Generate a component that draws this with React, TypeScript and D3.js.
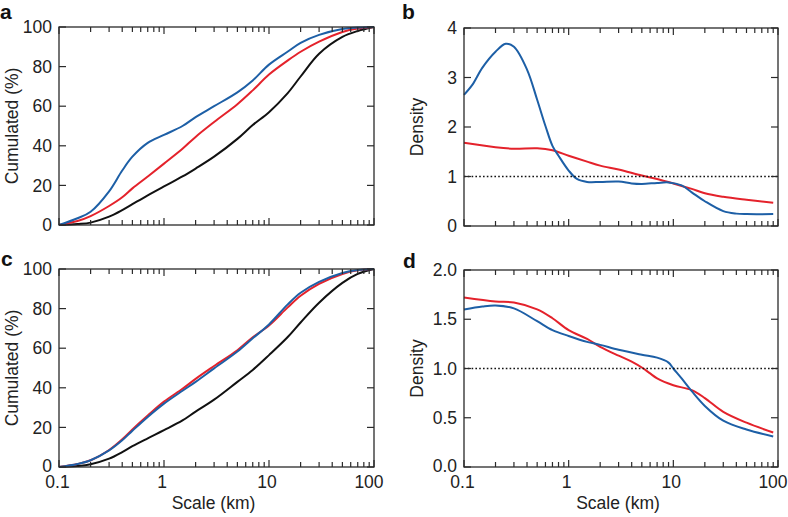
import React from "react";
import * as d3 from "d3";

// ---------- data ----------
const cumX = [0.1, 0.15, 0.2, 0.3, 0.4, 0.5, 0.7, 1, 1.5, 2, 3, 5, 7, 10, 15, 20, 30, 50, 70, 100];
const aBlue = [0, 3.4, 6.7, 17, 27.5, 34.5, 41.5, 45.5, 50, 54.5, 60, 67, 73, 81, 87.5, 92, 96, 99, 99.7, 100];
const aRed = [0, 2, 4.5, 9.6, 14, 18.5, 24.5, 31, 38.5, 44.5, 52, 61, 68, 76, 83, 87.5, 92.6, 97.5, 99.2, 100];
const aBlack = [0, 0.5, 1.2, 4.2, 7.5, 10.5, 15, 19.5, 24.5, 28.5, 34.5, 43.5, 50.5, 57, 66.5, 75, 86.5, 95, 98, 100];

const cBlue = [0, 1.5, 3.4, 8.4, 13.5, 18.3, 25.3, 32, 38.5, 43, 49.8, 58.3, 65, 72, 82, 88, 93.5, 98, 99.5, 100];
const cRed = [0, 1.5, 3.4, 8.6, 14, 19, 26, 33, 39.5, 44.5, 51, 59, 65.5, 71.5, 80.5, 86.5, 92.5, 97.5, 99.3, 100];
const cBlack = [0, 0.5, 1.4, 4.2, 7.5, 10.5, 14.5, 18.6, 23.5, 28, 34, 43, 49, 56.5, 65.5, 73, 83, 93, 97.5, 100];

const bBlueX = [0.1, 0.12, 0.15, 0.2, 0.25, 0.3, 0.4, 0.5, 0.6, 0.7, 0.8, 1, 1.2, 1.5, 2, 3, 4, 5, 7, 9, 12, 15, 20, 30, 40, 50, 90];
const bBlue = [2.65, 2.85, 3.2, 3.52, 3.68, 3.62, 3.16, 2.55, 2.02, 1.62, 1.42, 1.12, 0.95, 0.89, 0.89, 0.9, 0.86, 0.85, 0.87, 0.88, 0.82, 0.68, 0.5, 0.3, 0.25, 0.24, 0.24];
const bRedX = [0.1, 0.2, 0.3, 0.5, 0.7, 1, 1.5, 2, 3, 5, 7, 10, 15, 20, 30, 50, 90];
const bRed = [1.68, 1.59, 1.56, 1.57, 1.53, 1.42, 1.3, 1.22, 1.14, 1.02, 0.95, 0.86, 0.75, 0.66, 0.59, 0.53, 0.47];

const dRedX = [0.1, 0.2, 0.3, 0.5, 0.7, 1, 1.5, 2, 3, 4, 5, 6, 7, 10, 15, 20, 30, 50, 90];
const dRed = [1.72, 1.68, 1.67, 1.6, 1.51, 1.39, 1.3, 1.22, 1.13, 1.07, 1.01, 0.95, 0.9, 0.83, 0.78, 0.7, 0.56, 0.45, 0.35];
const dBlueX = [0.1, 0.15, 0.2, 0.3, 0.5, 0.7, 1, 1.5, 2, 3, 5, 7, 9, 10, 12, 15, 20, 30, 50, 90];
const dBlue = [1.6, 1.63, 1.64, 1.61, 1.48, 1.39, 1.33, 1.27, 1.24, 1.19, 1.14, 1.11, 1.06, 1.0, 0.9, 0.77, 0.62, 0.47, 0.38, 0.31];

const cumTicks = [0, 20, 40, 60, 80, 100];
const bTicks = [0, 1, 2, 3, 4];
const dTicks = [0, 0.5, 1.0, 1.5, 2.0];
const xTickValues = [0.1, 1, 10, 100];
const xTickLabels = ["0.1", "1", "10", "100"];

const BLUE = "#1d5fa6";
const RED = "#e4222b";
const BLACK = "#111111";
const FONT = "'Liberation Sans', Arial, Helvetica, sans-serif";

type Series = { x: number[]; y: number[]; color: string };

function Panel(props: {
  left: number; right: number; top: number; bottom: number;
  yMax: number; yTicks: number[]; yFmt: (v: number) => string;
  series: Series[]; letter: string; letterX: number; letterY: number;
  yLabel: string; yLabelX: number; showX: boolean; dotted?: number;
}) {
  const { left, right, top, bottom, yMax, yTicks, yFmt, series, letter, letterX, letterY, yLabel, yLabelX, showX, dotted } = props;
  const x = d3.scaleLog().domain([0.1, 100]).range([left, right]);
  const y = d3.scaleLinear().domain([0, yMax]).range([bottom, top]);
  const line = d3.line<[number, number]>().x(d => x(d[0])).y(d => y(d[1])).curve(d3.curveCatmullRom.alpha(0.5));
  const minor: number[] = [];
  [0.1, 1, 10].forEach(dec => { for (let k = 2; k <= 9; k++) minor.push(dec * k); });
  const axisColor = "#2a2a2a";
  const labelShift = [-1.5, -2, -2, -5];
  return (
    <g>
      {series.map((s, i) => (
        <path key={i} d={line(s.x.map((v, j) => [v, s.y[j]]) as [number, number][]) || ""} fill="none" stroke={s.color} strokeWidth={2} />
      ))}
      {dotted !== undefined && (
        <line x1={left} x2={right} y1={y(dotted)} y2={y(dotted)} stroke="#111" strokeWidth={1.3} strokeDasharray="1.6,2.2" />
      )}
      <rect x={left} y={top} width={right - left} height={bottom - top} fill="none" stroke={axisColor} strokeWidth={1.3} />
      {minor.map((m, i) => (
        <g key={"m" + i}>
          <line x1={x(m)} x2={x(m)} y1={bottom} y2={bottom - 5} stroke={axisColor} strokeWidth={1.2} />
          <line x1={x(m)} x2={x(m)} y1={top} y2={top + 5} stroke={axisColor} strokeWidth={1.2} />
        </g>
      ))}
      {xTickValues.map((m, i) => (
        <g key={"M" + i}>
          <line x1={x(m)} x2={x(m)} y1={bottom} y2={bottom - 7} stroke={axisColor} strokeWidth={1.2} />
          <line x1={x(m)} x2={x(m)} y1={top} y2={top + 7} stroke={axisColor} strokeWidth={1.2} />
        </g>
      ))}
      {yTicks.map((t, i) => (
        <g key={"y" + i}>
          <line x1={left} x2={left + 7} y1={y(t)} y2={y(t)} stroke={axisColor} strokeWidth={1.2} />
          <line x1={right} x2={right - 7} y1={y(t)} y2={y(t)} stroke={axisColor} strokeWidth={1.2} />
          <text x={left - 7} y={y(t) - (i === 0 && showX ? 1 : 0)} dy="0.35em" textAnchor="end" fontSize={17.5} fontFamily={FONT} fill="#222">{yFmt(t)}</text>
        </g>
      ))}
      {showX && xTickValues.map((m, i) => (
        <text key={"xl" + i} x={x(m) + labelShift[i]} y={bottom + 21} textAnchor="middle" fontSize={17.5} fontFamily={FONT} fill="#222">{xTickLabels[i]}</text>
      ))}
      {showX && (
        <text x={(left + right) / 2 - 3} y={bottom + 42} textAnchor="middle" fontSize={17.5} fontFamily={FONT} fill="#222">Scale (km)</text>
      )}
      <text transform={`translate(${yLabelX},${(top + bottom) / 2}) rotate(-90)`} textAnchor="middle" fontSize={17.5} fontFamily={FONT} fill="#222">{yLabel}</text>
      <text x={letterX} y={letterY} fontSize={21} fontWeight="bold" fontFamily={FONT} fill="#111">{letter}</text>
    </g>
  );
}

export default function App() {
  return (
    <svg width={788} height={517} style={{ position: "absolute", left: 0, top: 0, background: "#fff" }}>
      <Panel left={59} right={374} top={27} bottom={225} yMax={100} yTicks={cumTicks} yFmt={v => String(v)}
        series={[{ x: cumX, y: aBlack, color: BLACK }, { x: cumX, y: aRed, color: RED }, { x: cumX, y: aBlue, color: BLUE }]}
        letter="a" letterX={0} letterY={19} yLabel="Cumulated (%)" yLabelX={18} showX={false} />
      <Panel left={464} right={778} top={28} bottom={226} yMax={4} yTicks={bTicks} yFmt={v => String(v)}
        series={[{ x: bRedX, y: bRed, color: RED }, { x: bBlueX, y: bBlue, color: BLUE }]}
        letter="b" letterX={402} letterY={19} yLabel="Density" yLabelX={423} showX={false} dotted={1} />
      <Panel left={59} right={374} top={269} bottom={467} yMax={100} yTicks={cumTicks} yFmt={v => String(v)}
        series={[{ x: cumX, y: cBlack, color: BLACK }, { x: cumX, y: cRed, color: RED }, { x: cumX, y: cBlue, color: BLUE }]}
        letter="c" letterX={1} letterY={266} yLabel="Cumulated (%)" yLabelX={18} showX={true} />
      <Panel left={464} right={778} top={270} bottom={467} yMax={2} yTicks={dTicks} yFmt={v => v.toFixed(1)}
        series={[{ x: dRedX, y: dRed, color: RED }, { x: dBlueX, y: dBlue, color: BLUE }]}
        letter="d" letterX={403} letterY={268} yLabel="Density" yLabelX={423} showX={true} dotted={1} />
    </svg>
  );
}
